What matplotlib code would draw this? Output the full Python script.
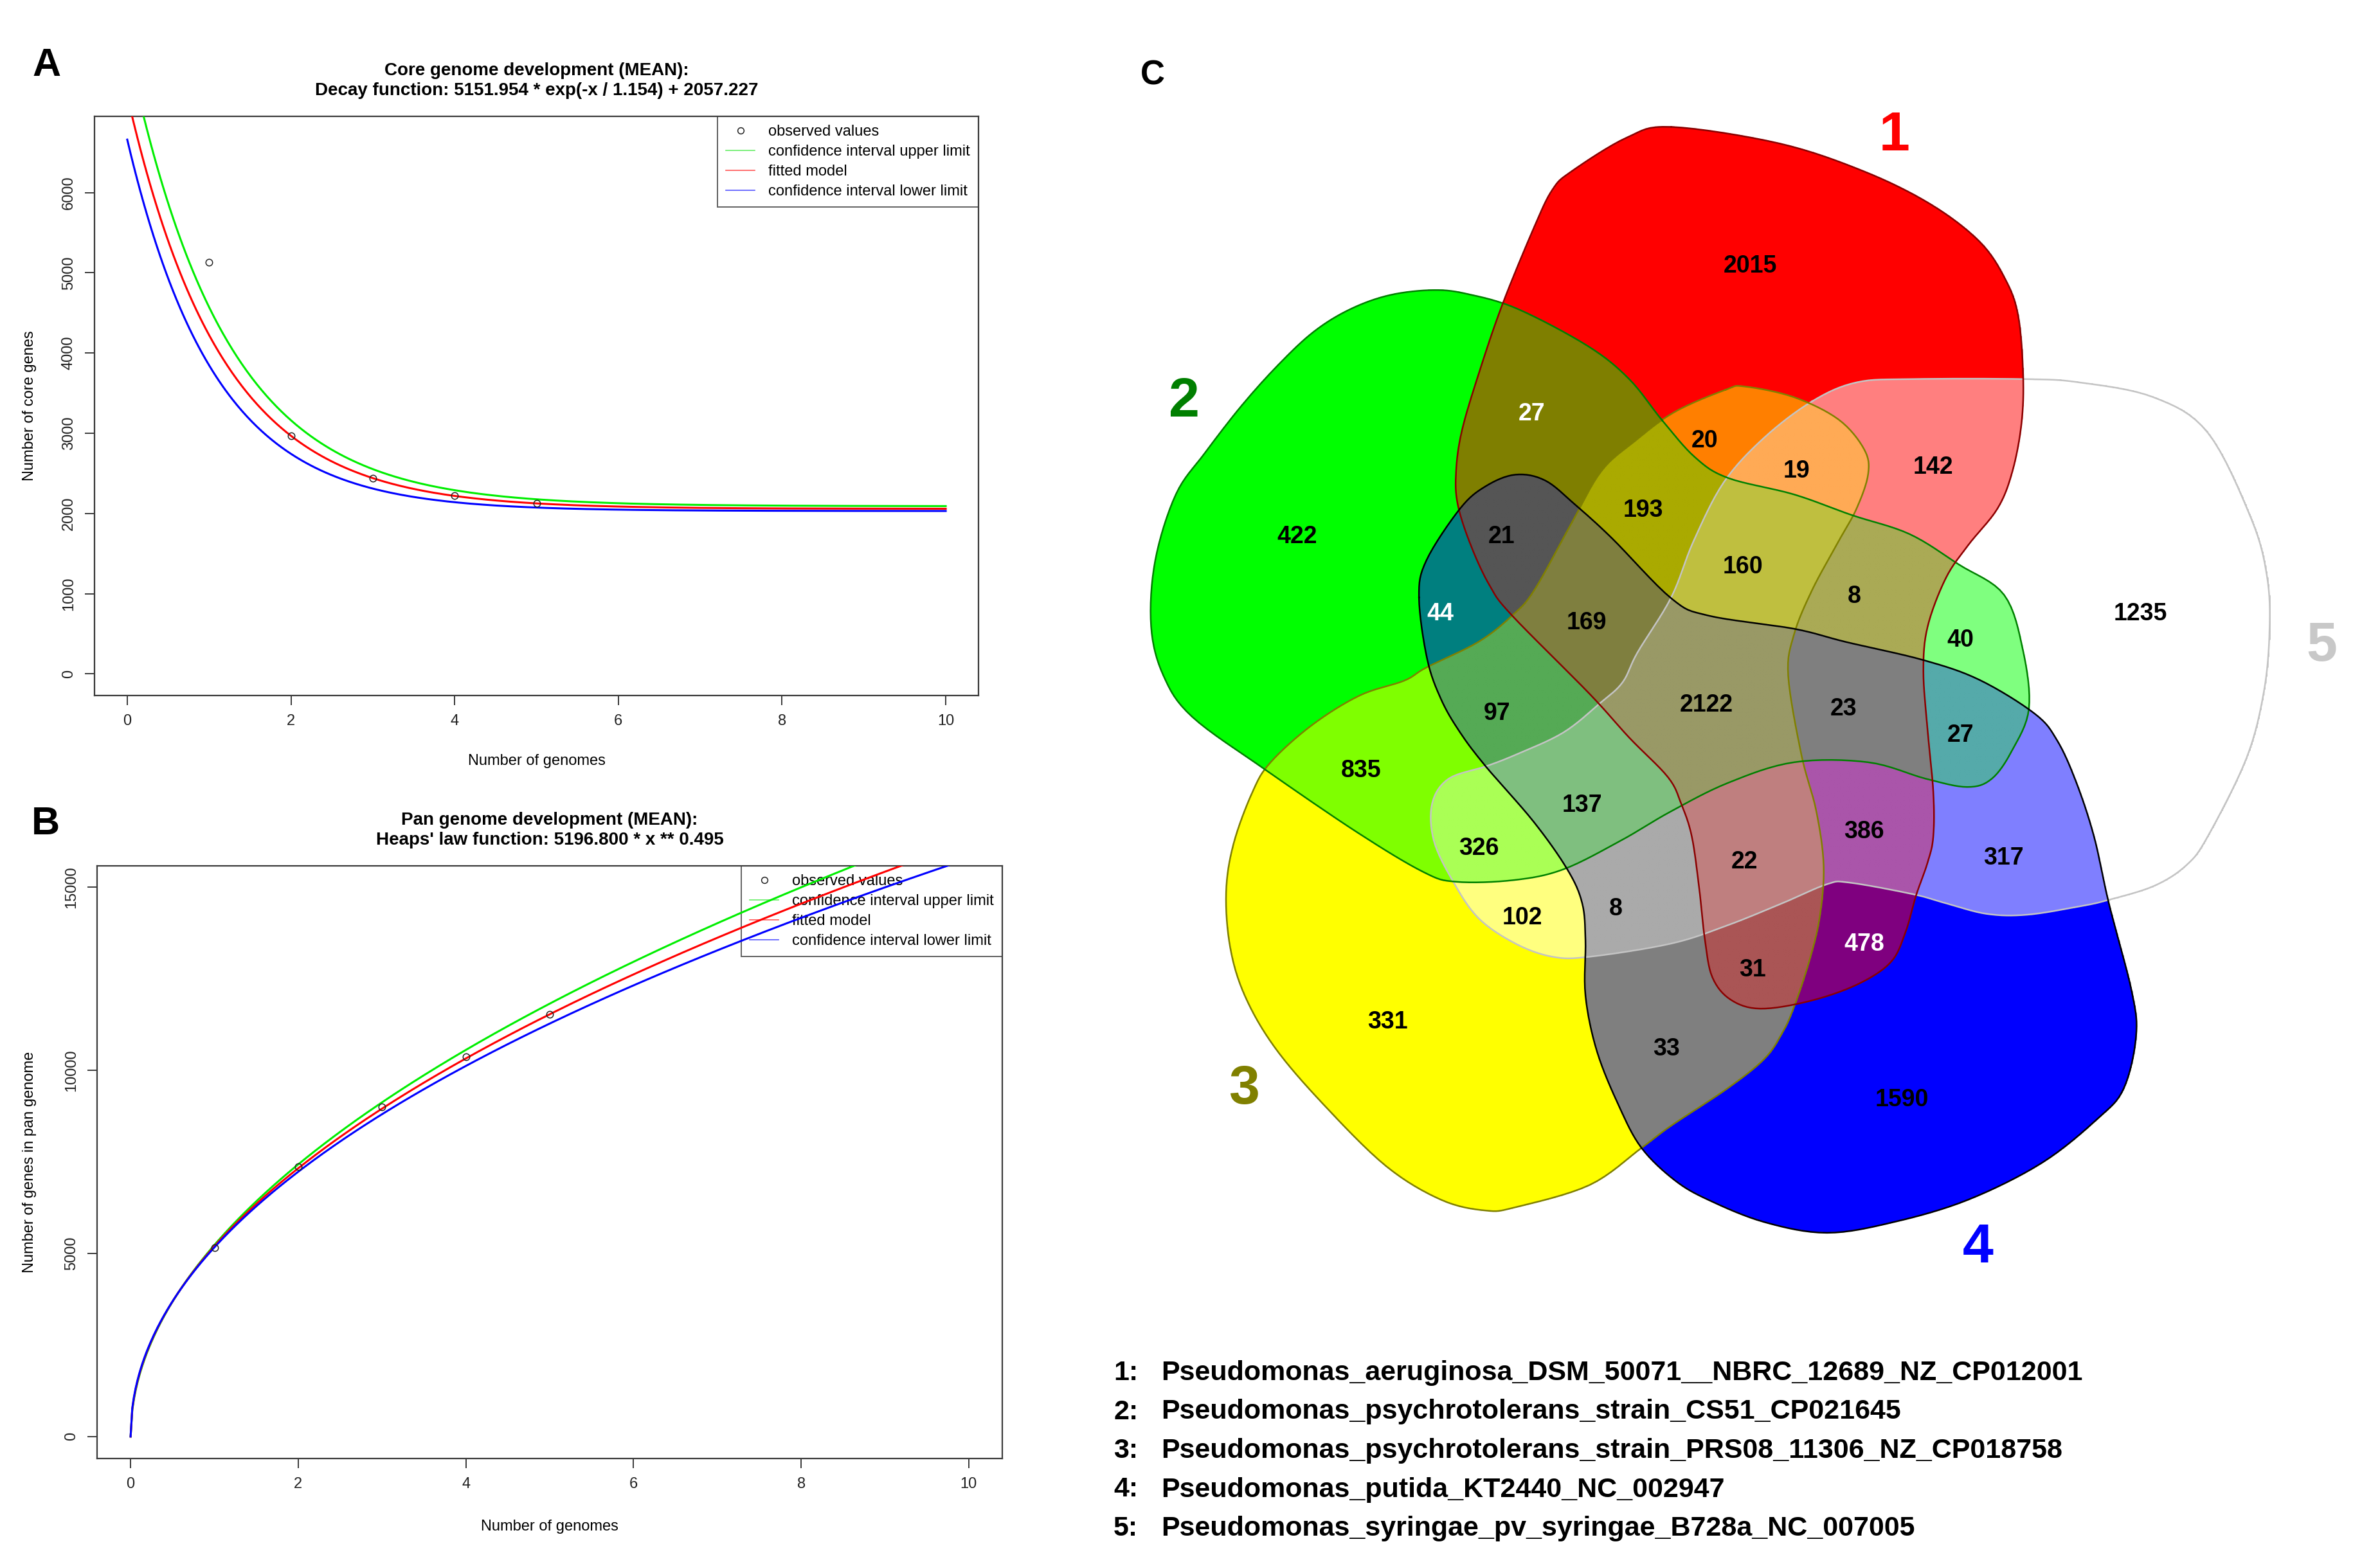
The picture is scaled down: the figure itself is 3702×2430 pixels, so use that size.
import numpy as np
import matplotlib
matplotlib.use('Agg')
import matplotlib.pyplot as plt
from matplotlib.path import Path
from matplotlib.lines import Line2D

plt.rcParams['font.family'] = ['Liberation Sans', 'DejaVu Sans']

# --- data: panel A (core genome) ---
genomes_obs = [1, 2, 3, 4, 5]
core_obs = [5132, 2970, 2438, 2222, 2125]
# decay model a * exp(-x / t) + c (fit from the title, CI limits)
core_fit = (5151.954, 1.154, 2057.227)
core_upper = (5750, 1.19, 2090)
core_lower = (4630, 1.069, 2030)

# --- data: panel B (pan genome) ---
pan_obs = [5160, 7368, 9000, 10368, 11526]
# Heaps' law a * x ** b
pan_fit = (5196.8, 0.495)
pan_upper = (5230, 0.5065)
pan_lower = (5165, 0.485)

# --- data: panel C (5-set Venn) ---
venn_counts = [2015, 422, 331, 1590, 1235,
               27, 20, 19, 142, 193, 21, 44, 160, 8, 40,
               169, 2122, 23, 27, 97, 835, 137, 326, 386, 317,
               22, 102, 8, 478, 31, 33]
genome_names = [
    'Pseudomonas_aeruginosa_DSM_50071__NBRC_12689_NZ_CP012001',
    'Pseudomonas_psychrotolerans_strain_CS51_CP021645',
    'Pseudomonas_psychrotolerans_strain_PRS08_11306_NZ_CP018758',
    'Pseudomonas_putida_KT2440_NC_002947',
    'Pseudomonas_syringae_pv_syringae_B728a_NC_007005',
]

# layout of the venn (in the panel's own pixel units)
count_xy = [(797, 323), (247, 651), (357, 1240), (981, 1335), (1270, 745),
            (532, 502), (742, 535), (853, 572), (1019, 567), (667, 619),
            (495, 651), (421, 745), (788, 688), (923, 724), (1052, 777),
            (598, 756), (744, 856), (910, 860), (1052, 892), (490, 866),
            (325, 935), (593, 977), (468, 1030), (935, 1009), (1104, 1041),
            (790, 1046), (520, 1114), (634, 1103), (935, 1146), (800, 1177),
            (695, 1273)]
white_counts = {5, 11, 28}

set_outlines = {
    1: [(701, 154), (832, 174), (935, 208), (1016, 248), (1075, 293), (1106, 338), (1122, 383),
        (1128, 455), (1126, 514), (1115, 572), (1097, 617), (1061, 662), (1034, 702), (1012, 761),
        (1007, 815), (1012, 885), (1019, 961), (1019, 1015), (1012, 1047), (998, 1087), (985, 1132),
        (967, 1168), (926, 1195), (868, 1215), (809, 1224), (773, 1213), (751, 1186), (742, 1141),
        (735, 1078), (726, 1015), (713, 975), (697, 943), (650, 895), (602, 842), (508, 747),
        (481, 711), (458, 662), (442, 612), (440, 572), (447, 523), (467, 455), (496, 370),
        (535, 275), (557, 230), (580, 208), (647, 167)],
    2: [(690, 510), (730, 555), (770, 580), (850, 600), (920, 625), (990, 648), (1050, 685),
        (1105, 722), (1128, 790), (1135, 860), (1115, 910), (1090, 945), (1060, 955), (1010, 945),
        (940, 925), (850, 925), (770, 950), (700, 985), (640, 1020), (570, 1055), (510, 1068),
        (440, 1070), (400, 1058), (320, 1010), (210, 935), (120, 870), (85, 820), (70, 760),
        (75, 680), (100, 600), (135, 550), (180, 492), (225, 442), (268, 402), (312, 375),
        (360, 358), (413, 352), (455, 357), (515, 375), (600, 420), (650, 460)],
    3: [(767, 473), (790, 469), (850, 482), (904, 509), (935, 545), (940, 575), (926, 617),
        (904, 657), (872, 716), (850, 770), (843, 820), (859, 916), (877, 984), (886, 1051),
        (881, 1114), (868, 1168), (850, 1222), (836, 1253), (814, 1285), (769, 1321), (701, 1366),
        (665, 1393), (602, 1438), (512, 1465), (476, 1469), (422, 1456), (355, 1415), (278, 1339),
        (220, 1271), (184, 1209), (166, 1150), (161, 1083), (170, 1024), (193, 961), (215, 925),
        (265, 880), (323, 844), (377, 826), (404, 810), (467, 779), (508, 747), (535, 716),
        (580, 635), (616, 572), (656, 536), (705, 500)],
    4: [(395, 725), (404, 680), (445, 617), (476, 590), (512, 576), (548, 583), (584, 612),
        (629, 653), (701, 726), (746, 747), (850, 763), (913, 779), (1007, 801), (1075, 825),
        (1142, 866), (1169, 898), (1192, 948), (1214, 1015), (1232, 1096), (1260, 1204),
        (1265, 1258), (1250, 1321), (1219, 1357), (1151, 1411), (1061, 1456), (971, 1483),
        (890, 1496), (814, 1483), (746, 1456), (705, 1432), (665, 1393), (638, 1343),
        (611, 1276), (597, 1208), (597, 1141), (593, 1096), (575, 1055), (534, 997), (476, 930),
        (445, 889), (422, 849), (405, 800)],
    5: [(872, 487), (926, 464), (994, 460), (1129, 460), (1196, 464), (1286, 482), (1352, 525),
        (1405, 630), (1424, 700), (1427, 765), (1420, 840), (1399, 920), (1352, 1015),
        (1326, 1050), (1287, 1075), (1232, 1092), (1196, 1100), (1133, 1110), (1084, 1109),
        (1034, 1096), (994, 1085), (917, 1071), (890, 1073), (836, 1096), (769, 1123), (701, 1145),
        (602, 1161), (557, 1161), (512, 1145), (467, 1114), (436, 1069), (413, 1020), (411, 975),
        (431, 945), (476, 930), (512, 916), (570, 889), (615, 853), (642, 828), (660, 792),
        (701, 725), (728, 657), (765, 585), (814, 531)],
}
set_fill = {1: (1, 0, 0), 2: (0, 1, 0), 3: (1, 1, 0), 4: (0, 0, 1), 5: (1, 1, 1)}
set_edge = {1: '#8b0000', 2: '#008000', 3: '#808000', 4: '#000000', 5: '#c4c4c4'}
set_text = {1: '#ff0000', 2: '#007f00', 3: '#808000', 4: '#0000ff', 5: '#c8c8c8'}
set_label_xy = {1: (972, 165), 2: (110, 488), 3: (183, 1322), 4: (1073, 1515), 5: (1490, 785)}


def smooth_closed(pts, n=8):
    # closed Catmull-Rom spline through the outline points
    P = np.asarray(pts, float)
    N = len(P)
    t = np.linspace(0, 1, n, endpoint=False)[:, None]
    out = []
    for i in range(N):
        p0, p1, p2, p3 = P[i - 1], P[i], P[(i + 1) % N], P[(i + 2) % N]
        out.append(0.5 * (2 * p1 + (-p0 + p2) * t + (2 * p0 - 5 * p1 + 4 * p2 - p3) * t ** 2
                          + (-p0 + 3 * p1 - 3 * p2 + p3) * t ** 3))
    out = np.vstack(out)
    return np.vstack([out, out[:1]])


W, H = 3702, 2430
fig = plt.figure(figsize=(W / 100, H / 100), dpi=100)


def px_axes(x0, y0, x1, y1):
    return fig.add_axes([x0 / W, 1 - y1 / H, (x1 - x0) / W, (y1 - y0) / H])


def r_style(ax):
    for s in ax.spines.values():
        s.set_color('#3a3a3a')
        s.set_linewidth(1.6)
    ax.tick_params(direction='out', length=11, width=1.4, color='#3a3a3a',
                   labelsize=17, pad=10, labelcolor='#222222')
    ax.tick_params(axis='y', labelrotation=90)
    plt.setp(ax.get_yticklabels(), va='center')


def r_legend(ax):
    handles = [
        Line2D([], [], ls='none', marker='o', mfc='none', mec='#222222', ms=7, mew=1.1),
        Line2D([], [], color='#66ee66', lw=1.2),
        Line2D([], [], color='#ff5555', lw=1.2),
        Line2D([], [], color='#5555ff', lw=1.2),
    ]
    labels = ['observed values', 'confidence interval upper limit',
              'fitted model', 'confidence interval lower limit']
    leg = ax.legend(handles, labels, loc='upper right', borderaxespad=0, fontsize=17,
                    frameon=True, fancybox=False, edgecolor='#3a3a3a', handlelength=1.9,
                    handletextpad=0.9, borderpad=0.55, labelspacing=0.38)
    leg.get_frame().set_linewidth(1.4)
    leg.set_zorder(1)


# ---------------- panel A ----------------
axA = px_axes(147, 181, 1522, 1082)
xs = np.linspace(0, 10, 500)
for (a, t, c), col in [(core_upper, '#00ee00'), (core_fit, '#ff0000'), (core_lower, '#0000ff')]:
    axA.plot(xs, a * np.exp(-xs / t) + c, color=col, lw=2.2, zorder=3)
axA.plot(genomes_obs, core_obs, ls='none', marker='o', mfc='none', mec='#222222',
         ms=7.5, mew=1.1, zorder=4)
axA.set_xlim(-0.4, 10.4)
axA.set_ylim(-270, 6950)
axA.set_xticks(range(0, 11, 2))
axA.set_yticks(range(0, 7000, 1000))
r_style(axA)
axA.set_title('Core genome development (MEAN):\nDecay function: 5151.954 * exp(-x / 1.154) + 2057.227',
              fontsize=20, fontweight='bold', pad=24, linespacing=1.25)
axA.set_xlabel('Number of genomes', fontsize=17)
axA.set_ylabel('Number of core genes', fontsize=17)
axA.xaxis.set_label_coords(0.5, -102 / 901)
axA.xaxis.label.set_va('center')
axA.yaxis.set_label_coords(-101 / 1375, 0.5)
axA.yaxis.label.set_va('center')
r_legend(axA)

# ---------------- panel B ----------------
axB = px_axes(151, 1347, 1559, 2269)
for (a, b), col in [(pan_upper, '#00ee00'), (pan_fit, '#ff0000'), (pan_lower, '#0000ff')]:
    axB.plot(xs, a * xs ** b, color=col, lw=2.2, zorder=3)
axB.plot(genomes_obs, pan_obs, ls='none', marker='o', mfc='none', mec='#222222',
         ms=7.5, mew=1.1, zorder=4)
axB.set_xlim(-0.4, 10.4)
axB.set_ylim(-600, 15580)
axB.set_xticks(range(0, 11, 2))
axB.set_yticks([0, 5000, 10000, 15000])
r_style(axB)
axB.set_title("Pan genome development (MEAN):\nHeaps' law function: 5196.800 * x ** 0.495",
              fontsize=20, fontweight='bold', pad=24, linespacing=1.25)
axB.set_xlabel('Number of genomes', fontsize=17)
axB.set_ylabel('Number of genes in pan genome', fontsize=17)
axB.xaxis.set_label_coords(0.5, -106 / 922)
axB.xaxis.label.set_va('center')
axB.yaxis.set_label_coords(-105 / 1408, 0.5)
axB.yaxis.label.set_va('center')
r_legend(axB)

# ---------------- panel C ----------------
axC = px_axes(1700, 0, 3702, 2000)
Wc, Hc = 2002 / 1.283, 2000 / 1.282
axC.set_xlim(0, Wc)
axC.set_ylim(Hc, 0)
axC.axis('off')

nx_, ny_ = 1300, 1300
gx = (np.arange(nx_) + 0.5) * Wc / nx_
gy = (np.arange(ny_) + 0.5) * Hc / ny_
GX, GY = np.meshgrid(gx, gy)
pts = np.column_stack([GX.ravel(), GY.ravel()])
rgb_sum = np.zeros((ny_, nx_, 3))
n_in = np.zeros((ny_, nx_))
curves = {}
for k, outline in set_outlines.items():
    curve = smooth_closed(outline)
    curves[k] = curve
    inside = Path(curve).contains_points(pts).reshape(ny_, nx_)
    rgb_sum += inside[..., None] * np.array(set_fill[k])
    n_in += inside
img = np.zeros((ny_, nx_, 4))
img[..., :3] = rgb_sum / np.maximum(n_in, 1)[..., None]
img[..., 3] = (n_in > 0).astype(float)
axC.imshow(img, extent=(0, Wc, Hc, 0), origin='upper', interpolation='bilinear', zorder=1)

for k in [5, 3, 2, 1, 4]:
    c = curves[k]
    axC.plot(c[:, 0], c[:, 1], color=set_edge[k], lw=1.8, zorder=2)

for i, (cnt, (x, y)) in enumerate(zip(venn_counts, count_xy)):
    axC.text(x, y, str(cnt), ha='center', va='center', fontsize=27, fontweight='bold',
             color='white' if i in white_counts else 'black', zorder=5)

for k, (x, y) in set_label_xy.items():
    axC.text(x, y, str(k), ha='center', va='center', fontsize=62, fontweight='bold',
             color=set_text[k], zorder=5)

# panel letters
fig.text(73 / W, 1 - 102 / H, 'A', fontsize=44, fontweight='bold', ha='center', va='center')
fig.text(71 / W, 1 - 1282 / H, 'B', fontsize=44, fontweight='bold', ha='center', va='center')
fig.text(1793 / W, 1 - 117 / H, 'C', fontsize=38, fontweight='bold', ha='center', va='center')

# genome key under the venn
for i, name in enumerate(genome_names):
    y = 1 - (2136 + i * 60.5) / H
    fig.text(1732 / W, y, f'{i + 1}:', fontsize=31, fontweight='bold', ha='left', va='center')
    fig.text(1806 / W, y, name, fontsize=31, fontweight='bold', ha='left', va='center')

fig.savefig('out.png', dpi=100)
